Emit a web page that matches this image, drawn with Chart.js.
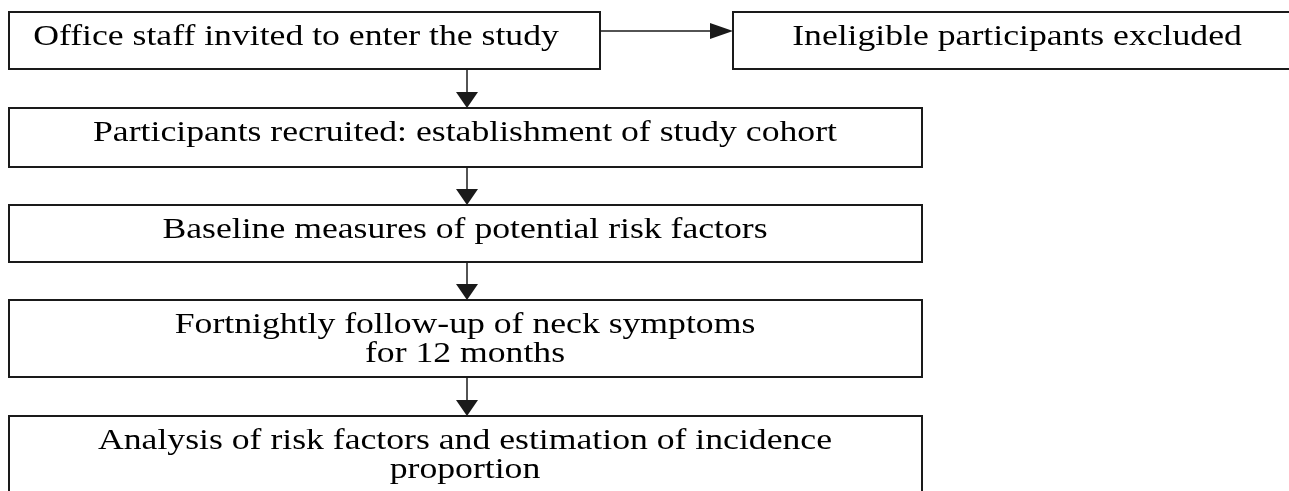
<!DOCTYPE html>
<html lang="en">
<head>
  <meta charset="UTF-8" />
  <title>Study flow</title>
  <script src="https://cdn.jsdelivr.net/npm/chart.js"></script>
  <style>
    html, body { margin: 0; padding: 0; background: #fff; }
    .chart-wrap { width: 1289px; height: 491px; position: relative; }
  </style>
</head>
<body>
  <div class="chart-wrap"><canvas id="flowChart"></canvas></div>

  <script>
    // flow steps (one entry per box, one string per text line)
    const stepLabels = [
      ['Office staff invited to enter the study'],
      ['Ineligible participants excluded'],
      ['Participants recruited: establishment of study cohort'],
      ['Baseline measures of potential risk factors'],
      ['Fortnightly follow-up of neck symptoms', 'for 12 months'],
      ['Analysis of risk factors and estimation of incidence', 'proportion']
    ];
    // arrows: [from, to]
    const links = [[0, 1], [0, 2], [2, 3], [3, 4], [4, 5]];

    // box layout in axis units (x left->right, y top->down)
    const boxLeft   = [9, 733, 9, 9, 9, 9];
    const boxRight  = [600, 1310, 922, 922, 922, 922];
    const boxTop    = [12, 12, 108, 205, 300, 416];
    const boxBottom = [69, 69, 167, 262, 377, 500];
    const textX     = [296, 1017, 465, 465, 465, 465];
    const arrowX = 467;

    const ink = '#1a1a1a';
    const font = '29px "Liberation Serif", "Times New Roman", serif';
    const stretch = 1.23; // the source text is drawn wide

    const flowPlugin = {
      id: 'flowDiagram',
      afterDraw(chart) {
        const { ctx, scales: { x, y } } = chart;
        ctx.save();
        ctx.strokeStyle = ink;
        ctx.fillStyle = ink;

        // boxes and text
        stepLabels.forEach((lines, i) => {
          const l = x.getPixelForValue(boxLeft[i]);
          const r = x.getPixelForValue(boxRight[i]);
          const t = y.getPixelForValue(boxTop[i]);
          const b = y.getPixelForValue(boxBottom[i]);
          ctx.lineWidth = 2;
          ctx.strokeRect(l, t, r - l, b - t);

          ctx.font = font;
          ctx.textAlign = 'center';
          ctx.textBaseline = 'alphabetic';
          lines.forEach((line, k) => {
            ctx.save();
            ctx.fillStyle = '#000';
            ctx.translate(x.getPixelForValue(textX[i]), t + 33 + k * 29);
            ctx.scale(stretch, 1);
            ctx.fillText(line, 0, 0);
            ctx.restore();
          });
        });

        // arrows
        ctx.lineWidth = 1.5;
        links.forEach(([from, to]) => {
          if (boxTop[to] === boxTop[from]) {
            // horizontal arrow
            const sx = x.getPixelForValue(boxRight[from]);
            const ex = x.getPixelForValue(boxLeft[to]);
            const yy = y.getPixelForValue(31);
            ctx.beginPath();
            ctx.moveTo(sx, yy);
            ctx.lineTo(ex - 20, yy);
            ctx.stroke();
            ctx.beginPath();
            ctx.moveTo(ex, yy);
            ctx.lineTo(ex - 23, yy - 8);
            ctx.lineTo(ex - 23, yy + 8);
            ctx.closePath();
            ctx.fill();
          } else {
            const xx = x.getPixelForValue(arrowX);
            const sy = y.getPixelForValue(boxBottom[from]);
            const ey = y.getPixelForValue(boxTop[to]);
            ctx.beginPath();
            ctx.moveTo(xx, sy);
            ctx.lineTo(xx, ey - 14);
            ctx.stroke();
            ctx.beginPath();
            ctx.moveTo(xx, ey);
            ctx.lineTo(xx - 11, ey - 16);
            ctx.lineTo(xx + 11, ey - 16);
            ctx.closePath();
            ctx.fill();
          }
        });
        ctx.restore();
      }
    };

    new Chart(document.getElementById('flowChart'), {
      type: 'scatter',
      data: {
        datasets: [{
          data: stepLabels.map((_, i) => ({ x: textX[i], y: (boxTop[i] + boxBottom[i]) / 2 })),
          pointRadius: 0
        }]
      },
      options: {
        responsive: true,
        maintainAspectRatio: false,
        animation: false,
        layout: { padding: 0 },
        plugins: { legend: { display: false }, tooltip: { enabled: false } },
        scales: {
          x: { type: 'linear', min: 0, max: 1289, display: false },
          y: { type: 'linear', min: 0, max: 491, reverse: true, display: false }
        }
      },
      plugins: [flowPlugin]
    });
  </script>
</body>
</html>
